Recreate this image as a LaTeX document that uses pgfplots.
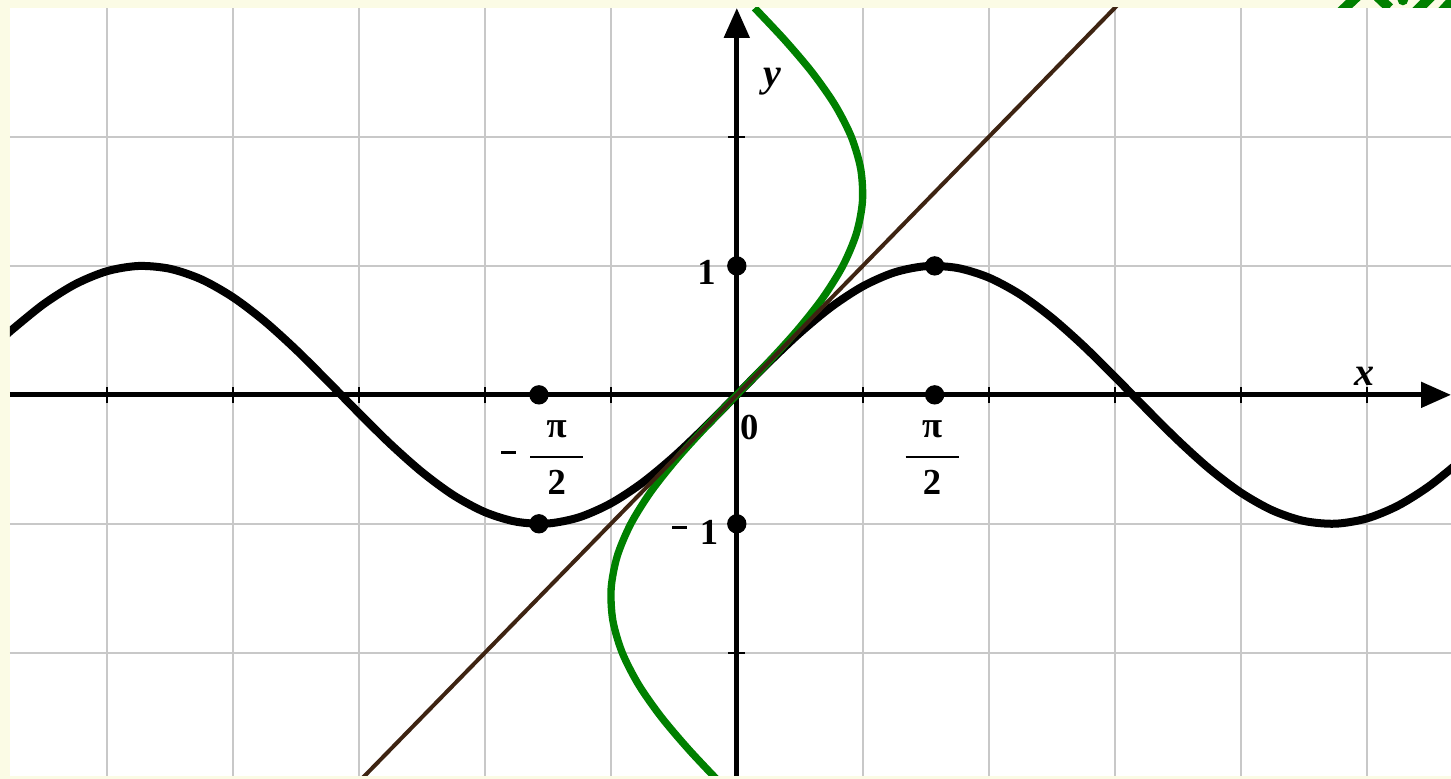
\documentclass[border=0pt]{standalone}
\usepackage{fontspec}
\setmainfont{Liberation Serif}
\usepackage{pgfplots}
\pgfplotsset{compat=1.18}
\usetikzlibrary{arrows.meta,backgrounds,calc}
\definecolor{paper}{RGB}{251,251,229}
\definecolor{gridgray}{RGB}{200,200,200}
\definecolor{curvegreen}{RGB}{0,128,0}
\definecolor{linebrown}{RGB}{62,36,18}
\newcommand{\mminus}{\rule{4.5pt}{0.9pt}}

\begin{document}
\begin{tikzpicture}[
  lbl/.style={font=\fontsize{11}{13}\selectfont\bfseries, inner sep=0pt},
  var/.style={font=\fontsize{12}{14}\selectfont\bfseries\itshape, inner sep=0pt}]
\begin{axis}[
  x=37.8pt, y=38.7pt,
  xmin=-5.77, xmax=5.67, ymin=-2.953, ymax=3.0,
  axis lines=middle,
  axis line style={line width=1.5pt, black},
  x axis line style={-{Triangle[length=9pt,width=7.5pt]}},
  y axis line style={-{Triangle[length=9pt,width=7.5pt]}},
  xtick={-5,-4,-3,-2,-1,0,1,2,3,4,5}, ytick={-2,-1,1,2},
  xticklabels={}, yticklabels={},
  tick align=center, major tick length=5pt,
  tick style={black, line width=0.6pt},
  grid=major, grid style={gridgray, line width=0.6pt},
  axis background/.style={fill=white},
]
% y = sin x
\addplot[black, line width=2.4pt, smooth] coordinates {
  (-5.8,0.4646) (-5.75,0.5083) (-5.5,0.7055) (-5.25,0.8589) (-5.0,0.9589)
  (-4.75,0.9993) (-4.5,0.9775) (-4.25,0.8950) (-4.0,0.7568) (-3.75,0.5716)
  (-3.5,0.3508) (-3.25,0.1082) (-3.0,-0.1411) (-2.75,-0.3817) (-2.5,-0.5985)
  (-2.25,-0.7781) (-2.0,-0.9093) (-1.75,-0.9840) (-1.5,-0.9975) (-1.25,-0.9490)
  (-1.0,-0.8415) (-0.75,-0.6816) (-0.5,-0.4794) (-0.25,-0.2474) (0,0)
  (0.25,0.2474) (0.5,0.4794) (0.75,0.6816) (1.0,0.8415) (1.25,0.9490)
  (1.5,0.9975) (1.75,0.9840) (2.0,0.9093) (2.25,0.7781) (2.5,0.5985)
  (2.75,0.3817) (3.0,0.1411) (3.25,-0.1082) (3.5,-0.3508) (3.75,-0.5716)
  (4.0,-0.7568) (4.25,-0.8950) (4.5,-0.9775) (4.75,-0.9993) (5.0,-0.9589)
  (5.25,-0.8589) (5.5,-0.7055) (5.75,-0.5083)};
% x = sin y
\addplot[curvegreen, line width=2.2pt, smooth] coordinates {
  (-0.1411,-3.0) (-0.3817,-2.75) (-0.5985,-2.5) (-0.7781,-2.25) (-0.9093,-2.0)
  (-0.9840,-1.75) (-0.9975,-1.5) (-0.9490,-1.25) (-0.8415,-1.0) (-0.6816,-0.75)
  (-0.4794,-0.5) (-0.2474,-0.25) (0,0) (0.2474,0.25) (0.4794,0.5)
  (0.6816,0.75) (0.8415,1.0) (0.9490,1.25) (0.9975,1.5) (0.9840,1.75)
  (0.9093,2.0) (0.7781,2.25) (0.5985,2.5) (0.3817,2.75) (0.1411,3.0)};
% y = x
\addplot[linebrown, line width=1.2pt] coordinates {(-3.1,-3.1) (3.1,3.1)};
% marked points
\addplot[only marks, mark=*, mark size=2.7pt, black] coordinates {
  (-1.5708,0) (1.5708,0) (0,1) (0,-1) (1.5708,1) (-1.5708,-1)};

\node[lbl] at (axis cs:-0.24,0.946) {1};
\node[inner sep=0pt] at (axis cs:-0.452,-1.031) {\mminus};
\node[lbl] at (axis cs:-0.22,-1.07) {1};
\node[lbl] at (axis cs:0.10,-0.25) {0};
\node[lbl] at (axis cs:1.55,-0.264) {π};
\draw[line width=0.6pt] (axis cs:1.34,-0.48) -- (axis cs:1.76,-0.48);
\node[lbl] at (axis cs:1.55,-0.68) {2};
\node[inner sep=0pt] at (axis cs:-1.81,-0.45) {\mminus};
\node[lbl] at (axis cs:-1.43,-0.264) {π};
\draw[line width=0.6pt] (axis cs:-1.64,-0.48) -- (axis cs:-1.22,-0.48);
\node[lbl] at (axis cs:-1.43,-0.68) {2};
\node[var] at (axis cs:4.98,0.14) {x};
\node[var] at (axis cs:0.28,2.43) {y};

\coordinate (SW) at (rel axis cs:0,0);
\coordinate (NW) at (rel axis cs:0,1);
\coordinate (NE) at (rel axis cs:1,1);
\end{axis}

\begin{scope}[on background layer]
  \fill[paper] ($(SW)+(-3pt,-0.9pt)$) rectangle ($(NE)+(0,2.4pt)$);
  \begin{scope}
    \clip ($(NW)+(-3pt,0)$) rectangle ($(NE)+(0,2.4pt)$);
    \coordinate (TL) at ($(NW)+(-3pt,2.4pt)$);
    \draw[curvegreen, line width=3pt] ($(TL)+(402.3pt,-3.6pt)$) -- ($(TL)+(407.4pt,1.2pt)$);
    \draw[curvegreen, line width=3pt] ($(TL)+(413.4pt,1pt)$) -- ($(TL)+(417pt,-2.4pt)$);
    \fill[curvegreen] ($(TL)+(421pt,0pt)$) circle (1.6pt);
    \draw[curvegreen, line width=3pt] ($(TL)+(424.8pt,-3.6pt)$) -- ($(TL)+(429.6pt,1.2pt)$);
    \draw[curvegreen, line width=3pt] ($(TL)+(432.6pt,-3.6pt)$) -- ($(TL)+(437pt,1.2pt)$);
  \end{scope}
\end{scope}
\pgfresetboundingbox
\path[use as bounding box] ($(SW)+(-3pt,-0.9pt)$) rectangle ($(NE)+(0,2.4pt)$);
\end{tikzpicture}
\end{document}
